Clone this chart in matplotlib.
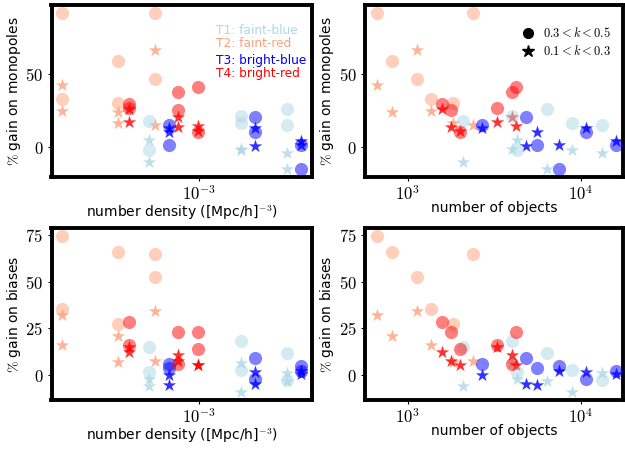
import matplotlib
matplotlib.use("Agg")
import matplotlib.pyplot as plt
from matplotlib.ticker import FuncFormatter, NullLocator, FixedLocator, LogLocator
from matplotlib.lines import Line2D
import numpy as np

plt.rcParams['font.family'] = ['DejaVu Sans']
plt.rcParams['mathtext.fontset'] = 'cm'

# ---------------- data ----------------
tracers = ["T1", "T2", "T3", "T4"]
tracer_names = ["faint-blue", "faint-red", "bright-blue", "bright-red"]
tracer_colors = ["lightblue", "lightsalmon", "blue", "red"]

# number density ([Mpc/h]^-3), per tracer, 6 samples each
dens_T1 = [5.09e-4, 5.09e-4, 1.735e-3, 1.735e-3, 3.23e-3, 3.23e-3]
dens_T2 = [1.614e-4, 1.614e-4, 3.375e-4, 3.375e-4, 5.546e-4, 5.546e-4]
dens_T3 = [6.64e-4, 6.64e-4, 2.10e-3, 2.10e-3, 3.855e-3, 3.855e-3]
dens_T4 = [3.90e-4, 3.90e-4, 7.58e-4, 7.58e-4, 9.89e-4, 9.89e-4]

# number of objects
nobj_T1 = [2074, 4267, 3990, 8941, 6361, 13332]
nobj_T2 = [667, 1363, 808, 1827, 1137, 2395]
nobj_T3 = [2678, 5568, 4797, 10688, 7490, 15895]
nobj_T4 = [1572, 3269, 1779, 3987, 2006, 4250]

# % gain on monopoles: high-k (0.3<k<0.5, circles) and low-k (0.1<k<0.3, stars)
mono_hi_T1 = [18.0, -2.3, 21.3, 16.6, 26.2, 15.2]
mono_lo_T1 = [-10.4, 4.5, -1.6, -2.1, -15.2, -4.6]
mono_hi_T2 = [92.4, 33.3, 59.5, 30.2, 46.8, 92.4]
mono_lo_T2 = [42.6, 24.9, 24.3, 16.6, 66.6, 15.3]
mono_hi_T3 = [15.3, 1.4, 20.5, 10.1, -15.0, 1.2]
mono_lo_T3 = [13.3, 10.1, 0.9, 13.0, 1.0, 4.0]
mono_hi_T4 = [29.8, 27.0, 25.3, 37.6, 10.2, 41.0]
mono_lo_T4 = [26.4, 17.0, 14.0, 20.3, 10.6, 14.3]

# % gain on biases
bias_hi_T1 = [14.9, 1.8, 18.0, 2.5, 11.6, -2.9]
bias_lo_T1 = [-6.0, -2.4, 6.6, -9.3, -3.4, 0.9]
bias_hi_T2 = [74.4, 35.3, 65.7, 27.4, 52.8, 64.8]
bias_lo_T2 = [32.2, 16.1, 20.9, 7.2, 34.2, 7.3]
bias_hi_T3 = [5.7, 3.5, 9.2, -2.3, 4.6, 2.0]
bias_lo_T3 = [0.2, -5.4, -4.8, 1.8, 2.3, 0.3]
bias_hi_T4 = [28.6, 16.1, 23.3, 5.9, 13.8, 23.3]
bias_lo_T4 = [12.5, 15.0, 7.4, 10.9, 5.2, 5.2]

k_labels = [r"$0.3 < k < 0.5$", r"$0.1 < k < 0.3$"]

dens = [dens_T1, dens_T2, dens_T3, dens_T4]
nobj = [nobj_T1, nobj_T2, nobj_T3, nobj_T4]
mono_hi = [mono_hi_T1, mono_hi_T2, mono_hi_T3, mono_hi_T4]
mono_lo = [mono_lo_T1, mono_lo_T2, mono_lo_T3, mono_lo_T4]
bias_hi = [bias_hi_T1, bias_hi_T2, bias_hi_T3, bias_hi_T4]
bias_lo = [bias_lo_T1, bias_lo_T2, bias_lo_T3, bias_lo_T4]

# ---------------- figure ----------------
W, H = 625, 449
fig = plt.figure(figsize=(W / 100, H / 100), dpi=100)

def px_axes(x0, x1, y0, y1):
    return fig.add_axes([x0 / W, 1 - y1 / H, (x1 - x0) / W, (y1 - y0) / H])

ax_tl = px_axes(51.5, 312, 5, 176.5)
ax_tr = px_axes(365, 623, 5, 176.5)
ax_bl = px_axes(51.5, 312, 228, 400)
ax_br = px_axes(365, 623, 228, 400)

S_CIRC = 90
S_STAR = 100
A_CIRC = 0.5
A_STAR = 0.8

def draw(ax, xs, lo, hi):
    for i in range(4):
        ax.scatter(xs[i], lo[i], marker='*', s=S_STAR, color=tracer_colors[i],
                   alpha=A_STAR, linewidths=0, zorder=2)
    for i in range(4):
        ax.scatter(xs[i], hi[i], marker='o', s=S_CIRC, color=tracer_colors[i],
                   alpha=A_CIRC, linewidths=0, zorder=3)

draw(ax_tl, dens, mono_lo, mono_hi)
draw(ax_tr, nobj, mono_lo, mono_hi)
draw(ax_bl, dens, bias_lo, bias_hi)
draw(ax_br, nobj, bias_lo, bias_hi)

log_fmt = FuncFormatter(lambda v, p: r"$10^{%d}$" % int(round(np.log10(v))))
int_fmt = FuncFormatter(lambda v, p: r"$%d$" % int(round(v)))

for ax in [ax_tl, ax_tr, ax_bl, ax_br]:
    ax.set_xscale('log')
    ax.xaxis.set_major_locator(LogLocator(base=10))
    ax.xaxis.set_minor_locator(NullLocator())
    ax.xaxis.set_major_formatter(log_fmt)
    ax.yaxis.set_major_formatter(int_fmt)
    for sp in ax.spines.values():
        sp.set_linewidth(2.8)
    ax.tick_params(direction='out', length=3, width=0.8, labelsize=12, pad=3)

LABEL_FS = 10
for ax in [ax_tl, ax_bl]:
    ax.set_xlim(1.40e-4, 4.48e-3)
    ax.set_xlabel(r"number density ([Mpc/h]$^{-3}$)", fontsize=LABEL_FS)
for ax in [ax_tr, ax_br]:
    ax.set_xlim(566.4, 17560)
    ax.set_xlabel("number of objects", fontsize=LABEL_FS)

for ax in [ax_tl, ax_tr]:
    ax.set_ylim(-20.5, 98)
    ax.yaxis.set_major_locator(FixedLocator([0, 50]))
    ax.set_ylabel(r"$\%$ gain on monopoles", fontsize=LABEL_FS)
for ax in [ax_bl, ax_br]:
    ax.set_ylim(-13.4, 78.8)
    ax.yaxis.set_major_locator(FixedLocator([0, 25, 50, 75]))
    ax.set_ylabel(r"$\%$ gain on biases", fontsize=LABEL_FS)

ax_tl.yaxis.set_label_coords(-0.109, 0.5)
ax_bl.yaxis.set_label_coords(-0.109, 0.5)
ax_tr.yaxis.set_label_coords(-0.112, 0.5)
ax_br.yaxis.set_label_coords(-0.112, 0.5)
for ax in [ax_tl, ax_bl]:
    ax.xaxis.set_label_coords(0.5, -0.155)
for ax in [ax_tr, ax_br]:
    ax.xaxis.set_label_coords(0.5, -0.14)

# tracer labels
ty = [0.854, 0.773, 0.679, 0.598]
for i in range(4):
    ax_tl.text(0.630, ty[i], f"{tracers[i]}: {tracer_names[i]}", color=tracer_colors[i],
               transform=ax_tl.transAxes, fontsize=8.7, va='center', ha='left')

handles = [Line2D([], [], marker='o', color='k', linestyle='none', markersize=7),
           Line2D([], [], marker='*', color='k', linestyle='none', markersize=9)]
ax_tr.legend(handles, k_labels, loc='upper left', bbox_to_anchor=(0.6076, 0.878),
             frameon=False, handlelength=1.0, handletextpad=0.68, borderpad=0,
             borderaxespad=0, labelspacing=0.35, fontsize=9)

fig.savefig("out.png", dpi=100)
